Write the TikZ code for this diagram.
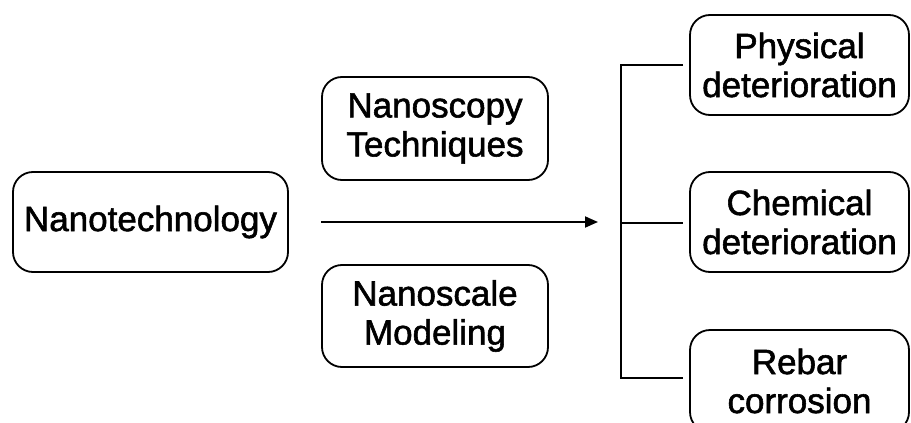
\documentclass[tikz,border=0pt]{standalone}
\usepackage{fontspec}
\setmainfont{Liberation Sans}
\newfontfamily\lblfont{Liberation Sans}[FakeBold=1.6]
\usetikzlibrary{arrows.meta}
\begin{document}
\begin{tikzpicture}[x=1pt,y=-1pt,
  box/.style={draw=black,line width=1.8pt,rounded corners=20pt,fill=white,inner sep=0pt},
  lbl/.style={align=center,font=\lblfont\fontsize{35}{39}\selectfont,inner sep=0pt},
  conn/.style={line width=1.8pt}]
\useasboundingbox (0,0) rectangle (911,423);
\clip (0,0) rectangle (911,423);
% boxes
\draw[box] (13,172) rectangle (288,272);
\node[lbl] (nano) at (150.5,222) {Nanotechnology};
\draw[box] (322,77) rectangle (548,180);
\node[lbl] (scopy) at (435,128.5) {Nanoscopy\\Techniques};
\draw[box] (322,265) rectangle (548,367);
\node[lbl] (scale) at (435,316) {Nanoscale\\Modeling};
\draw[box] (690,15) rectangle (909,115);
\node[lbl] (phys) at (799.5,65) {Physical\\deterioration};
\draw[box] (690,172) rectangle (909,272);
\node[lbl] (chem) at (799.5,222) {Chemical\\deterioration};
\draw[box] (690,330) rectangle (909,432);
\node[lbl] (rebar) at (799.5,381) {Rebar\\corrosion};
% coordinates
\coordinate (as) at (321,222);
\coordinate (ae) at (598,222);
\coordinate (t) at (621,65);
\coordinate (m) at (621,223);
\coordinate (b) at (621,378);
\coordinate (t2) at (683,65);
\coordinate (m2) at (683,223);
\coordinate (b2) at (683,378);
\draw[conn,-{Triangle[length=13pt,width=11pt]}] (as) -- (ae);
\draw[conn] (t2) -- (t) -- (b) -- (b2);
\draw[conn] (m) -- (m2);
\end{tikzpicture}
\end{document}
